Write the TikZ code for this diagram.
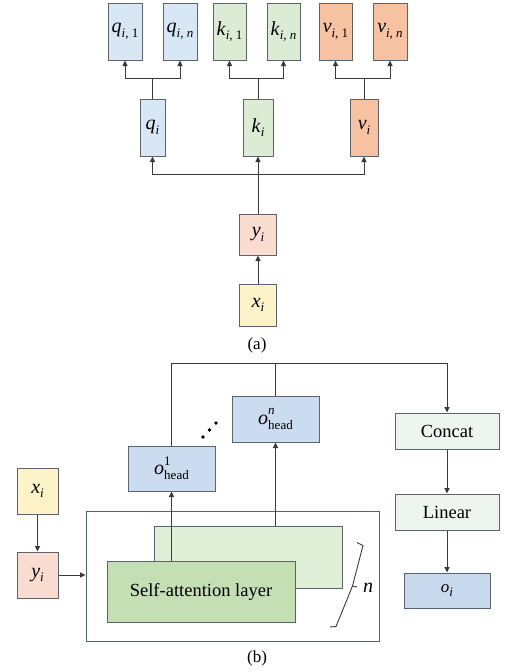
\documentclass[tikz,border=0pt]{standalone}
\usepackage{fontspec}
\setmainfont{Liberation Serif}
\usetikzlibrary{arrows.meta}
\definecolor{cq}{HTML}{D7E7F6}
\definecolor{ck}{HTML}{DCEBD4}
\definecolor{cv}{HTML}{F7C2A2}
\definecolor{cy}{HTML}{FADCD1}
\definecolor{cx}{HTML}{FDF2C8}
\definecolor{coh}{HTML}{CCDCF0}
\definecolor{cpale}{HTML}{EEF4EE}
\definecolor{coi}{HTML}{C8D9EE}
\definecolor{cfront}{HTML}{C3DFB3}
\definecolor{cback}{HTML}{E0F0D8}
\definecolor{cborder}{HTML}{5A626C}
\definecolor{cline}{HTML}{3A3A3A}
\newcommand\mysub[2]{\textit{#1}\raisebox{-0.5ex}{\fontsize{13}{13}\selectfont #2}}
\newcommand\mysupsub[3]{\textit{#1}\makebox[0pt][l]{\raisebox{1.0ex}{\fontsize{13}{13}\selectfont #2}}\raisebox{-0.55ex}{\fontsize{13}{13}\selectfont #3}}
\tikzset{
  box/.style={draw=cborder, line width=1pt, inner sep=0pt, font=\fontsize{20}{20}\selectfont},
  conn/.style={draw=cline, line width=0.9pt},
  arr/.style={conn, -{Triangle[length=5.5pt,width=5pt]}},
  lbl/.style={inner sep=0pt, font=\fontsize{17}{17}\selectfont},
  txtbox/.style={box, font=\fontsize{18.5}{18.5}\selectfont}
}
\begin{document}
\begin{tikzpicture}[x=1pt,y=-1pt]
\useasboundingbox (0,0) rectangle (517,672);
% ---------- (a) ----------
\node[box, fill=cq, minimum width=34pt, minimum height=57pt] (qi1) at (125,31.5) {\mysub{q}{\textit{i}, 1}};
\node[box, fill=cq, minimum width=34pt, minimum height=57pt] (qin) at (180,31.5) {\mysub{q}{\textit{i}, \textit{n}}};
\node[box, fill=ck, minimum width=33pt, minimum height=57pt] (ki1) at (229.5,31.5) {\mysub{k}{\textit{i}, 1}};
\node[box, fill=ck, minimum width=33pt, minimum height=57pt] (kin) at (283.5,31.5) {\mysub{k}{\textit{i}, \textit{n}}};
\node[box, fill=cv, minimum width=33pt, minimum height=57pt] (vi1) at (335.5,31.5) {\mysub{v}{\textit{i}, 1}};
\node[box, fill=cv, minimum width=34pt, minimum height=57pt] (vin) at (390,31.5) {\mysub{v}{\textit{i}, \textit{n}}};
\node[box, fill=cq, minimum width=25pt, minimum height=57pt] (qi) at (152.5,127.5) {\mysub{q}{\textit{i}}};
\node[box, fill=ck, minimum width=30pt, minimum height=57pt] (ki) at (258,127.5) {\mysub{k}{\textit{i}}};
\node[box, fill=cv, minimum width=28pt, minimum height=57pt] (vi) at (364,127.5) {\mysub{v}{\textit{i}}};
\node[box, fill=cy, minimum width=37pt, minimum height=41pt] (ya) at (258,234.5) {\mysub{y}{\textit{i}}};
\node[box, fill=cx, minimum width=37pt, minimum height=42pt] (xa) at (258,305) {\mysub{x}{\textit{i}}};
\node[lbl] (la) at (257,345) {(a)};
\coordinate (jq) at (152.5,78);
\coordinate (jk) at (258,78);
\coordinate (jv) at (364,78);
\draw[conn] (qi.north) -- (jq);
\draw[arr] (jq) -| (qi1.south);
\draw[arr] (jq) -| (qin.south);
\draw[conn] (ki.north) -- (jk);
\draw[arr] (jk) -| (ki1.south);
\draw[arr] (jk) -| (kin.south);
\draw[conn] (vi.north) -- (jv);
\draw[arr] (jv) -| (vi1.south);
\draw[arr] (jv) -| (vin.south);
\coordinate (ja) at (258,174);
\draw[conn] (ya.north) -- (ja);
\draw[arr] (ja) -- (ki.south);
\draw[arr] (ja) -| (qi.south);
\draw[arr] (ja) -| (vi.south);
\draw[arr] (xa.north) -- (ya.south);
% ---------- (b) ----------
\node[draw=cborder, line width=1pt, minimum width=293pt, minimum height=130pt, inner sep=0pt] (outer) at (232.5,576) {};
\node[box, fill=cback, minimum width=188pt, minimum height=62pt] (back) at (248,557) {};
\node[txtbox, fill=cfront, minimum width=188pt, minimum height=61pt] (front) at (201,591.5) {Self-attention layer};
\node[box, fill=coh, minimum width=87pt, minimum height=46pt] (ohn) at (275.5,419) {\mysupsub{o}{\textit{n}}{head}};
\node[box, fill=coh, minimum width=87pt, minimum height=45pt] (oh1) at (171.5,468.5) {\mysupsub{o}{1}{head}};
\node[box, fill=cx, minimum width=41pt, minimum height=46pt] (xb) at (37.5,491) {\mysub{x}{\textit{i}}};
\node[box, fill=cy, minimum width=41pt, minimum height=46pt] (yb) at (37.5,575) {\mysub{y}{\textit{i}}};
\node[txtbox, fill=cpale, minimum width=104pt, minimum height=36pt] (concat) at (447,431) {Concat};
\node[txtbox, fill=cpale, minimum width=104pt, minimum height=36pt] (linear) at (447,512) {Linear};
\node[box, fill=coi, minimum width=86pt, minimum height=35pt, font=\fontsize{17}{17}\selectfont] (oi) at (447,590.5) {\mysub{o}{\textit{i}}};
\node[lbl, font=\fontsize{20}{20}\selectfont\itshape] (nl) at (368,588) {n};
\node[lbl] (lb) at (257,658) {(b)};
% dots
\fill[black] (203,437) circle (1.9pt) (209.5,430) circle (1.9pt) (216,423) circle (1.9pt);
% top line
\coordinate (t1) at (171.5,363);
\coordinate (t2) at (275.5,363);
\coordinate (t3) at (447,363);
\draw[conn] (oh1.north) -- (t1) -- (t3);
\draw[conn] (ohn.north) -- (t2);
\draw[arr] (t3) -- (concat.north);
\draw[arr] (concat.south) -- (linear.north);
\draw[arr] (linear.south) -- (oi.north);
\draw[arr] (front.north -| oh1.south) -- (oh1.south);
\draw[arr] (back.north -| ohn.south) -- (ohn.south);
\draw[arr] (xb.south) -- (yb.north);
\draw[arr] (yb.east) -- (yb.east -| outer.west);
% brace
\draw[draw=cline, line width=0.9pt, line join=round] (357,542.5) -- (363,545.5) -- (352.5,586) -- (357,587) (352.5,586) -- (336,626.5) -- (330,627);
\end{tikzpicture}
\end{document}
